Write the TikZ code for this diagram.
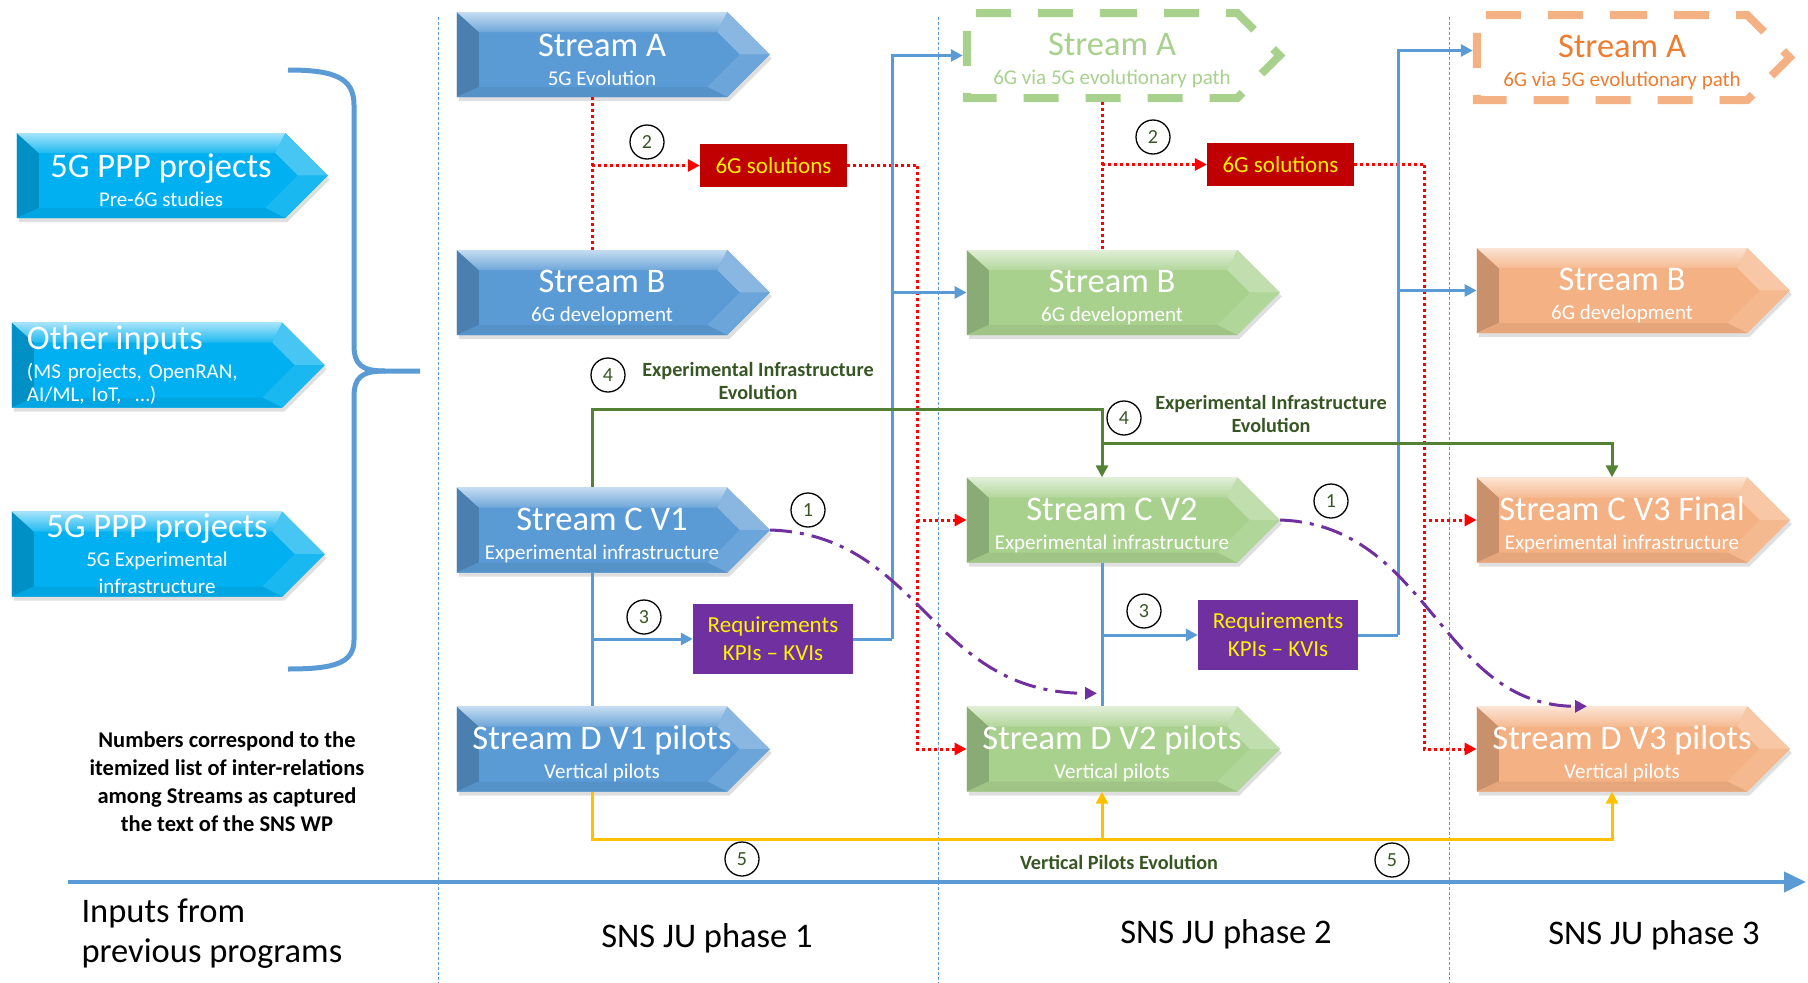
\documentclass[tikz,border=0pt]{standalone}
\usepackage{fontspec}
\setmainfont{Carlito}
\usepackage{tikz}
\usetikzlibrary{positioning,calc,shapes.symbols,shadows,arrows.meta}

\definecolor{sblue}{HTML}{5B9BD5}
\definecolor{sgreen}{HTML}{A9D18E}
\definecolor{sorange}{HTML}{F4B183}
\definecolor{dorange}{HTML}{ED7D31}
\definecolor{scyan}{HTML}{00B0F0}
\definecolor{lgreen}{HTML}{548235}
\definecolor{tgreen}{HTML}{375623}
\definecolor{ylw}{HTML}{FFC000}
\definecolor{solred}{HTML}{C00000}
\definecolor{reqpurple}{HTML}{7030A0}

\newcommand\strtitle{\fontsize{34.5}{29}\selectfont}
\newcommand\sline[1]{\hspace*{20pt}\makebox[0pt]{#1}}
\newcommand\streamtext[2]{\sline{\strtitle\rule{0pt}{33pt}#1}\\\sline{#2}}
\def\pb{path picture bounding box}

\tikzset{
  stream/.style={signal, signal to=east, signal pointer angle=90,
    fill=#1, text=white, minimum width=313, minimum height=85,
    inner sep=0, align=center, font=\fontsize{21}{29}\selectfont,
    drop shadow={opacity=.25, shadow xshift=2pt, shadow yshift=-4pt},
    path picture={
      \fill[#1!82!black] (\pb.north west) -- ($(\pb.north west)+(22,-20)$)
        -- ($(\pb.south west)+(22,10)$) -- (\pb.south west) -- cycle;
      \shade[top color=#1!35!white, bottom color=#1!88!white] (\pb.north west)
        -- ($(\pb.north east)+(-42.5,0)$) -- ($(\pb.north east)+(-52.5,-20)$)
        -- ($(\pb.north west)+(22,-20)$) -- cycle;
      \fill[#1!72!white] ($(\pb.north east)+(-42.5,0)$) -- (\pb.east)
        -- ($(\pb.east)+(-30,0)$) -- ($(\pb.north east)+(-52.5,-20)$) -- cycle;
      \fill[#1!90!white] ($(\pb.east)+(-30,0)$) -- (\pb.east)
        -- ($(\pb.south east)+(-42.5,0)$) -- ($(\pb.south east)+(-62.5,10)$) -- cycle;
      \fill[#1!94!black] ($(\pb.south west)+(22,10)$) -- ($(\pb.south east)+(-62.5,10)$)
        -- ($(\pb.south east)+(-42.5,0)$) -- (\pb.south west) -- cycle;
    }},
  ghost/.style={signal, signal to=east, signal pointer angle=90,
    draw=#1, line width=8, dash pattern=on 35pt off 27pt, fill=white,
    minimum width=313, minimum height=85, inner sep=0, align=center,
    font=\fontsize{21}{29}\selectfont},
  solbox/.style={rectangle, fill=#1, text=yellow, inner sep=0, align=center,
    font=\fontsize{23}{28}\selectfont},
  num/.style={circle, draw=black, line width=1.3, minimum size=34, inner sep=0,
    text=tgreen, font=\fontsize{20}{20}\selectfont},
  evo/.style={text=tgreen, align=center, font=\fontsize{20.2}{23}\selectfont\bfseries},
  phase/.style={font=\fontsize{34.5}{40}\selectfont},
  arr/.style={-{Triangle[length=12pt,width=12pt]}},
  bluecon/.style={draw=sblue, line width=3},
  redcon/.style={draw=red, line width=3, dash pattern=on 3pt off 3pt},
  greencon/.style={draw=lgreen, line width=3},
  ylwcon/.style={draw=ylw, line width=3},
  purcon/.style={draw=reqpurple, line width=3, dash pattern=on 22pt off 8pt on 4pt off 8pt},
  phaseline/.style={draw=sblue, line width=1, dash pattern=on 3pt off 2pt},
  brace/.style={draw=sblue, line width=5},
  timeaxis/.style={draw=sblue, line width=4, -{Triangle[length=22pt,width=20pt]}},
}

\begin{document}
\begin{tikzpicture}[x=1pt,y=1pt]
\useasboundingbox (0,0) rectangle (1808,-983);
\foreach \px in {438,938,1449}
  \draw[phaseline] (\px,-17) -- (\px,-983);

% inputs from previous programs
\node[stream=scyan,minimum width=311] (in1) at (151,-175.5) {\streamtext{5G PPP projects}{Pre-6G studies}};
\node[stream=scyan,align=left,text width=240] (in2) at (147,-365) {{\strtitle Other inputs}\\(MS projects, OpenRAN,\\[-6pt]AI/ML, IoT,\ \ …)};
\node[stream=scyan] (in3) at (147,-554) {\sline{\strtitle 5G PPP projects}\\\sline{5G Experimental}\\[-2pt]\sline{infrastructure}};
\draw[brace] (288,-70) .. controls (335,-70) and (354,-78) .. (354,-105) -- (354,-345)
  .. controls (354,-365) and (362,-371) .. (385,-371) -- (420,-371);
\draw[brace] (385,-371) .. controls (362,-371) and (354,-377) .. (354,-397) -- (354,-640)
  .. controls (354,-663) and (335,-669) .. (288,-669);
\node[font=\fontsize{22.5}{28}\selectfont\bfseries,align=center] (note) at (227,-782)
  {Numbers correspond to the\\itemized list of inter-relations\\among Streams as captured\\the text of the SNS WP};

% phase 1
\node[stream=sblue] (sA1) at (592,-54.5) {\streamtext{Stream A}{5G Evolution}};
\node[stream=sblue] (sB1) at (592,-292.5) {\streamtext{Stream B}{6G development}};
\node[stream=sblue] (sC1) at (592,-530) {\streamtext{Stream C V1}{Experimental infrastructure}};
\node[stream=sblue] (sD1) at (592,-749) {\streamtext{Stream D V1 pilots}{Vertical pilots}};
\node[solbox=solred,minimum width=147,minimum height=43] (sol1) at (773.5,-165.5) {6G solutions};
\node[solbox=reqpurple,minimum width=160,minimum height=70] (req1) at (773,-639) {Requirements\\KPIs – KVIs};

% phase 2
\node[ghost=sgreen,text=sgreen] (sA2) at (1102,-55.5) {\streamtext{Stream A}{6G via 5G evolutionary path}};
\node[stream=sgreen] (sB2) at (1102,-292.5) {\streamtext{Stream B}{6G development}};
\node[stream=sgreen] (sC2) at (1102,-520) {\streamtext{Stream C V2}{Experimental infrastructure}};
\node[stream=sgreen] (sD2) at (1102,-749) {\streamtext{Stream D V2 pilots}{Vertical pilots}};
\node[solbox=solred,minimum width=147,minimum height=43] (sol2) at (1280.5,-164.5) {6G solutions};
\node[solbox=reqpurple,minimum width=160,minimum height=70] (req2) at (1278,-635) {Requirements\\KPIs – KVIs};

% phase 3
\node[ghost=sorange,text=dorange] (sA3) at (1612,-57.5) {\streamtext{Stream A}{6G via 5G evolutionary path}};
\node[stream=sorange] (sB3) at (1612,-290.5) {\streamtext{Stream B}{6G development}};
\node[stream=sorange] (sC3) at (1612,-520) {\streamtext{Stream C V3 Final}{Experimental infrastructure}};
\node[stream=sorange] (sD3) at (1612,-749) {\streamtext{Stream D V3 pilots}{Vertical pilots}};

% 6G solutions
\draw[redcon] (sA1.south) -- (sB1.north);
\draw[redcon,arr] (sA1.south |- sol1.west) -- (sol1.west);
\coordinate (rj1) at ($(sol1.east)+(70,0)$);
\draw[redcon] (sol1.east) -- (rj1);
\draw[redcon,arr] (rj1) |- (sC2.west);
\draw[redcon,arr] (rj1) |- (sD2.west);
\draw[redcon] (sA2.south) -- (sB2.north);
\draw[redcon,arr] (sA2.south |- sol2.west) -- (sol2.west);
\coordinate (rj2) at ($(sol2.east)+(70,0)$);
\draw[redcon] (sol2.east) -- (rj2);
\draw[redcon,arr] (rj2) |- (sC3.west);
\draw[redcon,arr] (rj2) |- (sD3.west);

% requirements
\draw[bluecon] (sC1.south) -- (sD1.north);
\draw[bluecon,arr] (sC1.south |- req1.west) -- (req1.west);
\coordinate (bj1) at ($(req1.east)+(39,0)$);
\draw[bluecon] (req1.east) -- (bj1);
\draw[bluecon,arr] (bj1) |- (sA2.west);
\draw[bluecon,arr] (bj1) |- (sB2.west);
\draw[bluecon] (sC2.south) -- (sD2.north);
\draw[bluecon,arr] (sC2.south |- req2.west) -- (req2.west);
\coordinate (bj2) at ($(req2.east)+(40,0)$);
\draw[bluecon] (req2.east) -- (bj2);
\draw[bluecon,arr] (bj2) |- ($(sA3.west)+(0,7)$);
\draw[bluecon,arr] (bj2) |- (sB3.west);

% experimental infrastructure evolution
\coordinate (gj1) at ($(sC1.north)+(0,78)$);
\draw[greencon,arr] (sC1.north) -- (gj1) -| (sC2.north);
\coordinate (gj2) at ($(sC2.north)+(0,34)$);
\draw[greencon,arr] (gj2) -| (sC3.north);

% vertical pilots evolution
\coordinate (yj) at ($(sD1.south)+(0,-48)$);
\draw[ylwcon,arr] (sD1.south) -- (yj) -| (sD3.south);
\draw[ylwcon,arr] (yj -| sD2.south) -- (sD2.south);

% C to next D
\draw[purcon,arr] (sC1.east) .. controls +(152,-5) and +(-167,0) .. ($(sD2.north)+(-5,13)$);
\draw[purcon,arr] (sC2.east) .. controls +(150,-5) and +(-147,0) .. ($(sD3.north)+(-25,0)$);

\node[num] (n2a) at (647,-142) {2};
\node[num] (n2b) at (1153,-137) {2};
\node[num] (n4a) at (608,-375) {4};
\node[num] (n4b) at (1124,-418) {4};
\node[num] (n1a) at (808,-510) {1};
\node[num] (n1b) at (1331,-501) {1};
\node[num] (n3a) at (644,-617) {3};
\node[num] (n3b) at (1144,-611) {3};
\node[num] (n5a) at (742,-859) {5};
\node[num] (n5b) at (1392,-860) {5};
\node[evo] (evo1) at (758,-381) {Experimental Infrastructure\\Evolution};
\node[evo] (evo2) at (1271,-414) {Experimental Infrastructure\\Evolution};
\node[evo] (vpe) at (1119,-862) {Vertical Pilots Evolution};

% time line
\coordinate (ax0) at (68,-882);
\coordinate (ax1) at (1806,-882);
\draw[timeaxis] (ax0) -- (ax1);
\node[phase,anchor=west,align=left] (prev) at (78,-934) {Inputs from\\previous programs};
\node[phase] (ph1) at (707,-938) {SNS JU phase 1};
\node[phase] (ph2) at (1226,-934) {SNS JU phase 2};
\node[phase] (ph3) at (1654,-935) {SNS JU phase 3};
\end{tikzpicture}
\end{document}
